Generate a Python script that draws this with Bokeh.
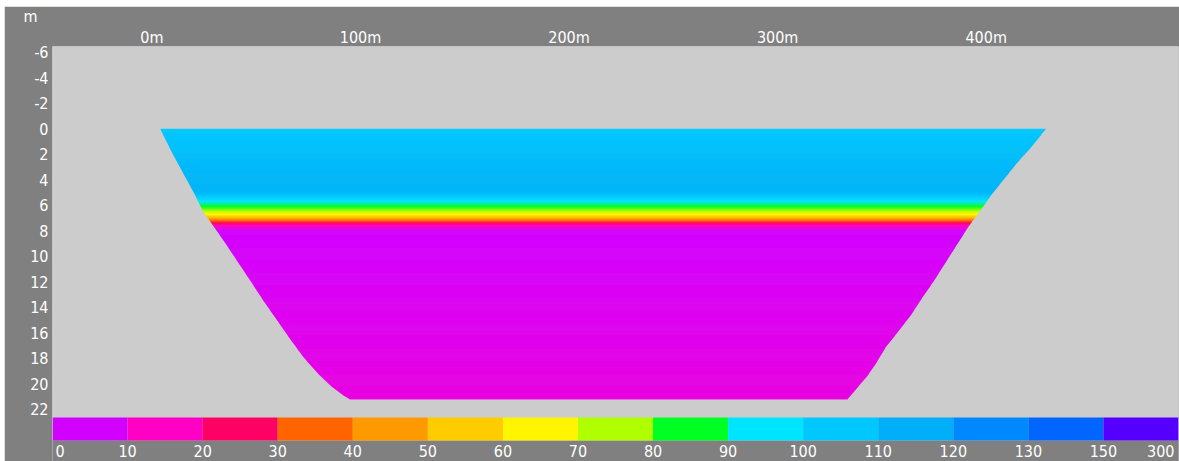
import numpy as np
from bokeh.plotting import figure
from bokeh.models import Range1d, FixedTicker, ColumnDataSource
from bokeh.layouts import column
from bokeh.embed import file_html
from bokeh.resources import INLINE
from bokeh.core.properties import value

# ---------------- data ----------------
x_ticks = [0, 100, 200, 300, 400]
x_tick_labels = ["0m", "100m", "200m", "300m", "400m"]
y_ticks = [-6, -4, -2, 0, 2, 4, 6, 8, 10, 12, 14, 16, 18, 20, 22]
y_tick_labels = ["-6", "-4", "-2", "0", "2", "4", "6", "8", "10", "12", "14", "16", "18", "20", "22"]

# bank profiles (distance m, depth m)
left_bank_x = [4.1, 9.7, 15.3, 20.1, 24.9, 28.9, 34.5, 40.9, 47.3, 53.7, 60.1, 66.5, 72.8, 79.3, 85.6, 92.0, 95.2]
left_bank_depth = [0, 1.84, 3.53, 4.97, 6.54, 7.45, 8.76, 10.33, 11.9, 13.5, 15.0, 16.5, 17.9, 19.1, 20.1, 20.9, 21.2]
right_bank_x = [428.5, 422.1, 414.9, 408.5, 402.1, 396.5, 391.7, 386.1, 380.5, 374.9, 369.4, 363.8, 357.4, 351.8, 347.0, 343.0, 338.2, 333.4]
right_bank_depth = [0, 1.31, 2.62, 3.92, 5.23, 6.54, 7.58, 9.02, 10.46, 11.9, 13.2, 14.6, 15.95, 17.1, 18.4, 19.35, 20.27, 21.2]

# vertical value profile
profile_depth = [0, 3.5, 5.0, 5.5, 5.9, 6.3, 6.7, 7.0, 7.3, 7.6, 8.0, 21.2]
profile_value = [105, 112, 112, 100, 90, 80, 65, 50, 30, 15, 5, 10]

# legend
legend_values = [0, 10, 20, 30, 40, 50, 60, 70, 80, 90, 100, 110, 120, 130, 150, 300]
legend_labels = ["0", "10", "20", "30", "40", "50", "60", "70", "80", "90", "100", "110", "120", "130", "150", "300"]
legend_colors = ["#d200ff", "#ff00c4", "#ff0064", "#ff6400", "#ff9900", "#ffcc00", "#fff500", "#b0ff00",
                 "#00ff22", "#00e5ff", "#00c8ff", "#00aff7", "#0088ff", "#0066ff", "#5500ff"]

FONT = "'Liberation Sans Narrow', 'DejaVu Sans Condensed', 'Arial Narrow', sans-serif"
GRAY = "#808080"
LIGHT = "#cccccc"


def hex_to_rgb(h):
    h = h.lstrip("#")
    return np.array([int(h[i:i + 2], 16) for i in (0, 2, 4)], dtype=float)


def color_for(v):
    mids = [(legend_values[i] + legend_values[i + 1]) / 2 for i in range(len(legend_colors))]
    rgb = np.array([hex_to_rgb(c) for c in legend_colors])
    out = [np.interp(v, mids, rgb[:, k]) for k in range(3)]
    return "#%02x%02x%02x" % tuple(int(round(c)) for c in out)


# ---------------- main section (frame reaches down to include the legend strip) ----------------
FRAME_H = 415          # pixel height of the frame
p = figure(width=1175, height=455,
           x_range=Range1d(-47.66, 492.2), y_range=Range1d(26.09, -6.45),
           x_axis_location="above", output_backend="svg", toolbar_location=None,
           min_border_left=48, min_border_right=1, min_border_top=40, min_border_bottom=0,
           background_fill_color=LIGHT, border_fill_color=GRAY, outline_line_color=None)
p.grid.visible = False
p.extra_x_ranges = {"cb": Range1d(0, len(legend_colors))}
p.extra_y_ranges = {"cb": Range1d(0, FRAME_H)}

max_depth = left_bank_depth[-1]
step = 0.04
rows = np.arange(0, max_depth, step)
tops = rows
bottoms = np.minimum(rows + 2 * step, max_depth)
mids = rows + step / 2
lefts = np.interp(mids, left_bank_depth, left_bank_x)
rights = np.interp(mids, right_bank_depth, right_bank_x)
vals = np.interp(mids, profile_depth, profile_value)
cols = [color_for(v) for v in vals]
src = ColumnDataSource(dict(left=lefts, right=rights, top=tops, bottom=bottoms, color=cols))
p.quad(left="left", right="right", top="top", bottom="bottom", fill_color="color",
       line_color=None, source=src)

# legend strip
idx = np.arange(len(legend_colors))
p.quad(left=[-1], right=[len(legend_colors) + 1], top=[21], bottom=[0], fill_color=GRAY, line_color=None,
       x_range_name="cb", y_range_name="cb")
p.quad(left=idx, right=idx + 1, top=44, bottom=21, fill_color=legend_colors, line_color=None,
       x_range_name="cb", y_range_name="cb")
n = len(legend_labels)
aligns = ["left"] + ["center"] * (n - 2) + ["right"]
offs = [3] + [0] * (n - 2) + [-4]
lsrc = ColumnDataSource(dict(x=np.arange(n), y=[10.5] * n, text=legend_labels, align=aligns, xo=offs))
p.text(x="x", y="y", text="text", text_align="align", x_offset="xo", text_baseline="middle",
       text_line_height=1.0,
       text_color="white", text_font=value(FONT), text_font_size="16px", source=lsrc,
       x_range_name="cb", y_range_name="cb")

for ax in (p.xaxis[0], p.yaxis[0]):
    ax.axis_line_color = None
    ax.major_tick_line_color = None
    ax.minor_tick_line_color = None
    ax.major_tick_out = 0
    ax.major_tick_in = 0
    ax.minor_tick_out = 0
    ax.minor_tick_in = 0
    ax.major_label_text_color = "white"
    ax.major_label_text_font = FONT
    ax.major_label_text_font_size = "16px"

p.xaxis.ticker = FixedTicker(ticks=x_ticks)
p.xaxis.major_label_overrides = dict(zip(x_ticks, x_tick_labels))
p.xaxis.major_label_standoff = 0
p.yaxis.ticker = FixedTicker(ticks=y_ticks)
p.yaxis.major_label_overrides = dict(zip(y_ticks, y_tick_labels))
p.yaxis.major_label_standoff = 4

p.title.text = "m"
p.title.text_color = "white"
p.title.text_font = FONT
p.title.text_font_style = "normal"
p.title.text_font_size = "16px"
p.title.text_line_height = 1.0
p.title.align = "left"
p.title.offset = -29
p.title.standoff = -3

layout = column(p, spacing=0, margin=(6, 0, 0, 4))
open("out.html", "w").write(file_html(layout, INLINE))
